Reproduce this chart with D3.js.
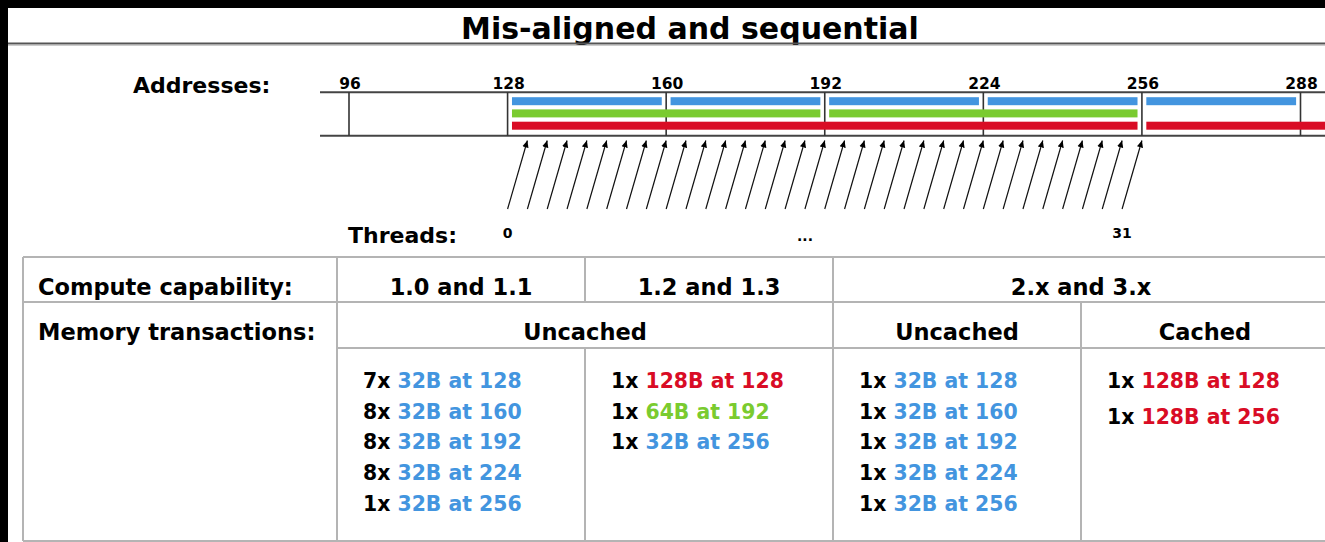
<!DOCTYPE html>
<html>
<head>
<meta charset="utf-8">
<script src="https://cdn.jsdelivr.net/npm/d3@7"></script>
<style>
  html, body { margin: 0; padding: 0; background: #fff; overflow: hidden; }
  svg { display: block; }
</style>
</head>
<body>
<div id="chart"></div>
<script>
// ---------- data ----------
const title = "Mis-aligned and sequential";
const tickAddresses = [96, 128, 160, 192, 224, 256, 288];
// memory segments touched, per transaction size
const seg32 = [[128, 160], [160, 192], [192, 224], [224, 256], [256, 288]];
const seg64 = [[128, 192], [192, 256]];
const seg128 = [[128, 256], [256, 384]];
// address read by each of the 32 threads
const threadAddr = [132, 136, 140, 144, 148, 152, 156, 160, 164, 168, 172, 176, 180, 184, 188, 192,
                    196, 200, 204, 208, 212, 216, 220, 224, 228, 232, 236, 240, 244, 248, 252, 256];
const threadLabels = ["0", "...", "31"];
const capabilities = ["1.0 and 1.1", "1.2 and 1.3", "2.x and 3.x"];
const cacheModes = ["Uncached", "Uncached", "Cached"];
const txCol1 = [["7x", "32B at 128", "b"], ["8x", "32B at 160", "b"], ["8x", "32B at 192", "b"], ["8x", "32B at 224", "b"], ["1x", "32B at 256", "b"]];
const txCol2 = [["1x", "128B at 128", "r"], ["1x", "64B at 192", "g"], ["1x", "32B at 256", "b"]];
const txCol3 = [["1x", "32B at 128", "b"], ["1x", "32B at 160", "b"], ["1x", "32B at 192", "b"], ["1x", "32B at 224", "b"], ["1x", "32B at 256", "b"]];
const txCol4 = [["1x", "128B at 128", "r"], ["1x", "128B at 256", "r"]];

const colors = { b: "#4395df", g: "#7acb2f", r: "#d90c25" };
const W = 1325, H = 542;
const bold = "'DejaVu Sans', Verdana, sans-serif";

const svg = d3.select("#chart").append("svg")
  .attr("width", W).attr("height", H)
  .attr("viewBox", `0 0 ${W} ${H}`);

svg.append("defs").append("marker")
  .attr("id", "head")
  .attr("viewBox", "0 -5 10 10")
  .attr("refX", 10).attr("refY", 0)
  .attr("markerWidth", 7).attr("markerHeight", 7)
  .attr("markerUnits", "userSpaceOnUse")
  .attr("orient", "auto")
  .append("path").attr("d", "M0,-4.5L10,0L0,4.5Z").attr("fill", "#000");

// ---------- frame + title ----------
svg.append("rect").attr("x", 0).attr("y", 0).attr("width", W).attr("height", 8).attr("fill", "#000");
svg.append("rect").attr("x", 0).attr("y", 0).attr("width", 8).attr("height", H).attr("fill", "#000");

svg.append("text")
  .attr("x", 690).attr("y", 28)
  .attr("text-anchor", "middle").attr("dominant-baseline", "central")
  .attr("font-family", bold).attr("font-weight", "bold").attr("font-size", 30)
  .text(title);
svg.append("line").attr("x1", 8).attr("x2", W).attr("y1", 43.5).attr("y2", 43.5)
  .attr("stroke", "#555").attr("stroke-width", 2);
svg.append("line").attr("x1", 8).attr("x2", W).attr("y1", 45.5).attr("y2", 45.5)
  .attr("stroke", "#ccc").attr("stroke-width", 1);

// ---------- address axis ----------
const x = d3.scaleLinear().domain([96, 288]).range([349, 1300.5]);
const axTop = 92.3, axBot = 135.7;

svg.append("text")
  .attr("x", 133).attr("y", 85).attr("dominant-baseline", "central")
  .attr("font-family", bold).attr("font-weight", "bold").attr("font-size", 22)
  .text("Addresses:");

const ax = svg.append("g");
[axTop, axBot].forEach(y => ax.append("line")
  .attr("x1", 320).attr("x2", W).attr("y1", y).attr("y2", y)
  .attr("stroke", "#444").attr("stroke-width", 2));

ax.selectAll("line.tick").data(tickAddresses).join("line")
  .attr("class", "tick")
  .attr("x1", d => x(d)).attr("x2", d => x(d))
  .attr("y1", axTop).attr("y2", axBot)
  .attr("stroke", "#333").attr("stroke-width", 1.6);

ax.selectAll("text").data(tickAddresses).join("text")
  .attr("x", d => x(d) + 1).attr("y", 84)
  .attr("text-anchor", "middle").attr("dominant-baseline", "central")
  .attr("font-family", bold).attr("font-weight", "bold").attr("font-size", 15.5)
  .text(d => d);

// transaction bars
const bars = [
  { segs: seg32, y: 97.2, c: colors.b },
  { segs: seg64, y: 109.4, c: colors.g },
  { segs: seg128, y: 121.7, c: colors.r }
];
const pad = 4.4;
bars.forEach(b => {
  svg.append("g").selectAll("rect").data(b.segs).join("rect")
    .attr("x", d => x(d[0]) + pad)
    .attr("y", b.y)
    .attr("width", d => x(d[1]) - x(d[0]) - 2 * pad)
    .attr("height", 8)
    .attr("fill", b.c);
});

// ---------- thread arrows ----------
const tailY = 209, tipY = 140.5;
svg.append("g").selectAll("line").data(threadAddr).join("line")
  .attr("x1", d => x(d - 4)).attr("y1", tailY)
  .attr("x2", d => x(d)).attr("y2", tipY)
  .attr("stroke", "#111").attr("stroke-width", 1.2)
  .attr("marker-end", "url(#head)");

svg.append("text")
  .attr("x", 348).attr("y", 235).attr("dominant-baseline", "central")
  .attr("font-family", bold).attr("font-weight", "bold").attr("font-size", 22)
  .text("Threads:");

const tLabelX = [x(threadAddr[0] - 4), 805, x(threadAddr[31] - 4)];
svg.append("g").selectAll("text").data(threadLabels).join("text")
  .attr("x", (d, i) => tLabelX[i]).attr("y", (d, i) => i === 1 ? 236 : 233)
  .attr("text-anchor", "middle").attr("dominant-baseline", "central")
  .attr("font-family", bold).attr("font-weight", "bold").attr("font-size", 14)
  .text(d => d);

// ---------- table ----------
const rowY = [257, 302, 348, 541];
const grid = svg.append("g").attr("stroke", "#b4b4b4").attr("stroke-width", 2);
const hLines = [[23, rowY[0]], [23, rowY[1]], [337, rowY[2]], [23, rowY[3]]];
hLines.forEach(([x0, y]) => grid.append("line").attr("x1", x0).attr("x2", 1329).attr("y1", y).attr("y2", y));
const vLines = [[23, rowY[0], rowY[3]], [337, rowY[0], rowY[3]], [585, rowY[0], rowY[1]], [585, rowY[2], rowY[3]],
                [833, rowY[0], rowY[3]], [1081, rowY[1], rowY[3]]];
vLines.forEach(([xx, y0, y1]) => grid.append("line").attr("x1", xx).attr("x2", xx).attr("y1", y0).attr("y2", y1));

const hdr = (t, xx, y, anchor) => svg.append("text")
  .attr("x", xx).attr("y", y)
  .attr("text-anchor", anchor).attr("dominant-baseline", "central")
  .attr("font-family", bold).attr("font-weight", "bold").attr("font-size", 22.5)
  .text(t);

hdr("Compute capability:", 38, 287, "start");
hdr("Memory transactions:", 38, 332, "start");
const capSpans = [[337, 585], [585, 833], [833, 1329]];
capabilities.forEach((c, i) => hdr(c, (capSpans[i][0] + capSpans[i][1]) / 2, 287, "middle"));
const modeSpans = [[337, 833], [833, 1081], [1081, 1329]];
cacheModes.forEach((c, i) => hdr(c, (modeSpans[i][0] + modeSpans[i][1]) / 2, 332, "middle"));

// transaction lists
const lists = [
  { rows: txCol1, x: 363, ys: [381, 412, 442, 473, 504] },
  { rows: txCol2, x: 611, ys: [381, 412, 442] },
  { rows: txCol3, x: 859, ys: [381, 412, 442, 473, 504] },
  { rows: txCol4, x: 1107, ys: [381, 417] }
];
lists.forEach(l => {
  const t = svg.append("g").selectAll("text").data(l.rows).join("text")
    .attr("x", l.x).attr("y", (d, i) => l.ys[i])
    .attr("dominant-baseline", "central")
    .attr("font-family", bold).attr("font-weight", "bold").attr("font-size", 20.4);
  t.append("tspan").attr("fill", "#000").text(d => d[0] + " ");
  t.append("tspan").attr("fill", d => colors[d[2]]).text(d => d[1]);
});
</script>
</body>
</html>
